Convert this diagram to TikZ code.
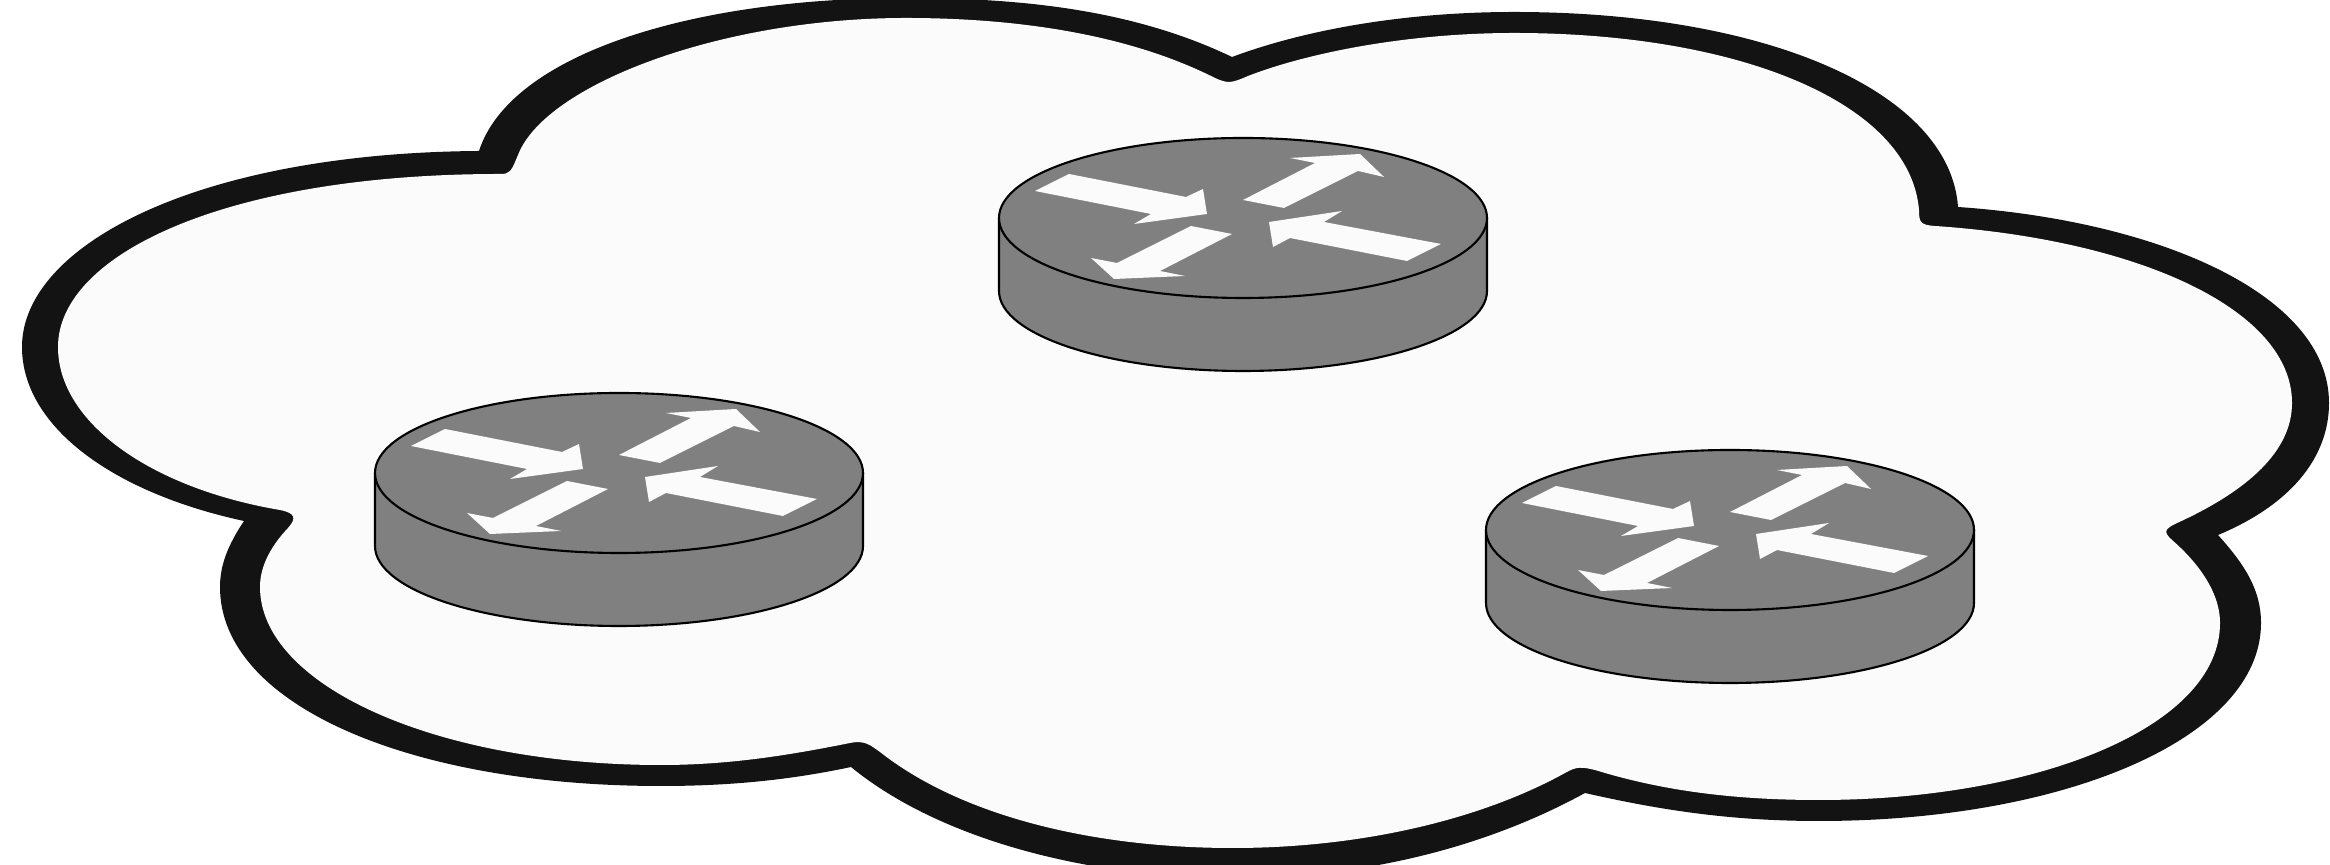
\documentclass[tikz,border=0pt]{standalone}
\usepackage{tikz}

\definecolor{cloudedge}{HTML}{131313}
\definecolor{cloudfill}{HTML}{FBFBFB}
\definecolor{routergray}{HTML}{808080}

\begin{document}
\begin{tikzpicture}[
    x=0.01cm, y=-0.01cm,
    % --- shape styles ---
    cloudout/.style={fill=cloudedge},
    cloudin/.style={fill=cloudfill},
    routerbody/.style={
        draw=black, fill=routergray, line width=0.6pt, line join=round},
    routerarrow/.style={fill=cloudfill},
]

\useasboundingbox (0,0) rectangle (2330,865);
\clip (0,0) rectangle (2330,865);
\fill[white] (0,0) rectangle (2330,865);

% ===== CLOUD OUTLINE =====
\path[cloudout] (479,151)
    .. controls (196,153) and (22,246) .. (22,347)
    .. controls (22,425) and (110,492) .. (244,521)
    .. controls (228,545) and (220,565) .. (220,587)
    .. controls (220,705) and (410,786) .. (661,786)
    .. controls (730,786) and (790,780) .. (851,767)
    .. controls (940,840) and (1090,878) .. (1233,878)
    .. controls (1370,878) and (1490,845) .. (1585,793)
    .. controls (1660,810) and (1730,821) .. (1819,821)
    .. controls (2065,821) and (2261,738) .. (2261,623)
    .. controls (2261,590) and (2245,565) .. (2218,535)
    .. controls (2290,505) and (2329,458) .. (2329,403)
    .. controls (2329,295) and (2160,221) .. (1958,207)
    .. controls (1950,93) and (1770,12) .. (1514,12)
    .. controls (1410,12) and (1310,28) .. (1232,57)
    .. controls (1130,8) and (1015,-2) .. (906,-2)
    .. controls (690,-2) and (510,55) .. (479,151)
    -- cycle;

% ===== CLOUD INSIDE =====
\path[cloudin] (500,174)
    .. controls (225,174) and (58,255) .. (58,347)
    .. controls (58,422) and (150,488) .. (280,510)
    .. controls (295,513) and (297,518) .. (288,528)
    .. controls (272,545) and (260,565) .. (260,587)
    .. controls (260,685) and (435,765) .. (661,765)
    .. controls (730,765) and (790,755) .. (850,743)
    .. controls (865,740) and (870,745) .. (880,752)
    .. controls (960,815) and (1090,848) .. (1233,848)
    .. controls (1360,848) and (1480,820) .. (1565,773)
    .. controls (1577,766) and (1582,767) .. (1595,770)
    .. controls (1660,790) and (1730,800) .. (1819,800)
    .. controls (2035,800) and (2220,728) .. (2220,623)
    .. controls (2220,590) and (2195,560) .. (2172,540)
    .. controls (2163,532) and (2165,529) .. (2175,524)
    .. controls (2250,490) and (2292,450) .. (2292,403)
    .. controls (2292,310) and (2140,240) .. (1935,226)
    .. controls (1920,225) and (1919,222) .. (1919,210)
    .. controls (1910,103) and (1740,33) .. (1514,33)
    .. controls (1410,33) and (1310,52) .. (1248,76)
    .. controls (1232,83) and (1228,84) .. (1215,78)
    .. controls (1130,35) and (1020,18) .. (906,18)
    .. controls (720,18) and (545,85) .. (518,155)
    .. controls (511,172) and (510,174) .. (500,174)
    -- cycle;

% ===== ROUTERS =====
\foreach \rx/\ry in {619/473, 1243/218, 1730/530}{
    \begin{scope}[shift={(\rx,\ry)}]
        \draw[routerbody] (-244,0) -- (-244,73)
            arc[start angle=180, end angle=0, x radius=244, y radius=80]
            -- (244,0) -- cycle;
        \draw[routerbody] (0,0) ellipse[x radius=244, y radius=80];
        \fill[routerarrow] (-208,-27) -- (-174,-44) -- (-57,-21) -- (-40,-29)
            -- (-36,-4) -- (-109,6) -- (-92,-4) -- cycle;
        \fill[routerarrow] (0,-18) -- (72,-55) -- (47,-60) -- (117,-64)
            -- (141,-41) -- (115,-47) -- (41,-10) -- cycle;
        \fill[routerarrow] (198,26) -- (164,43) -- (47,20) -- (30,29)
            -- (26,4) -- (99,-7) -- (81,4) -- cycle;
        \fill[routerarrow] (-11,16) -- (-52,8) -- (-126,45) -- (-152,40)
            -- (-129,61) -- (-58,58) -- (-83,53) -- cycle;
    \end{scope}
}

\end{tikzpicture}
\end{document}
